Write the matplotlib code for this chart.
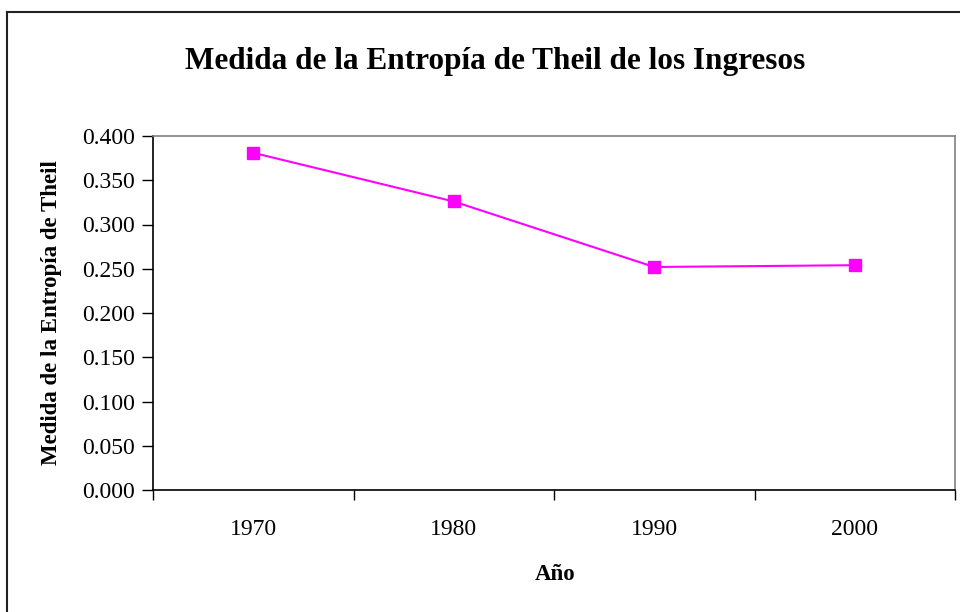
import matplotlib
matplotlib.use("Agg")
import matplotlib.pyplot as plt
from matplotlib.lines import Line2D

years = ["1970", "1980", "1990", "2000"]
theil = [0.381, 0.326, 0.252, 0.254]
yticks = [0.0, 0.05, 0.1, 0.15, 0.2, 0.25, 0.3, 0.35, 0.4]

plt.rcParams['font.family'] = ['Liberation Serif', 'DejaVu Serif']

fig = plt.figure(figsize=(9.6, 6.12), dpi=100)
ax = fig.add_axes([153/960, 1-490/612, (955-153)/960, (490-136)/612])

x = list(range(len(years)))
ax.plot(x, theil, color='#FF00FF', lw=1.5, marker='s', markersize=8,
        markerfacecolor='#FF00FF', markeredgecolor='#FF00FF')

ax.set_xlim(-0.5, len(years) - 0.5)
ax.set_ylim(0, 0.4)
ax.set_yticks(yticks)
ax.set_yticklabels([f"{v:.3f}" for v in yticks], fontsize=17)
ax.set_xticks([i - 0.5 for i in range(len(years) + 1)])
ax.set_xticklabels([])
ax.set_xticks(x, minor=True)
ax.set_xticklabels(years, minor=True, fontsize=17)
ax.tick_params(axis='x', which='minor', length=0, pad=21)
ax.tick_params(axis='x', which='major', length=7, direction='out', width=1)
ax.tick_params(axis='y', length=8, direction='out', width=1, pad=5)

for s in ['left', 'bottom']:
    ax.spines[s].set_color('black')
    ax.spines[s].set_linewidth(1.2)
for s in ['top', 'right']:
    ax.spines[s].set_color('#808080')
    ax.spines[s].set_linewidth(1.2)

fig.text(495/960, 1-61/612, "Medida de la Entropía de Theil de los Ingresos",
         ha='center', va='center', fontsize=22.5, fontweight='bold')
fig.text(555/960, 1-574/612, "Año", ha='center', va='center',
         fontsize=16.5, fontweight='bold')
fig.text(52/960, 1-313/612, "Medida de la Entropía de Theil", ha='center',
         va='center', rotation=90, fontsize=16.5, fontweight='bold')

# chart area border (left and top visible)
fig.add_artist(Line2D([7/960, 7/960], [0, 1-12/612], transform=fig.transFigure,
                      color='#222222', lw=1.5))
fig.add_artist(Line2D([7/960, 1], [1-12/612, 1-12/612], transform=fig.transFigure,
                      color='#222222', lw=1.5))

fig.savefig("out.png", dpi=100)
